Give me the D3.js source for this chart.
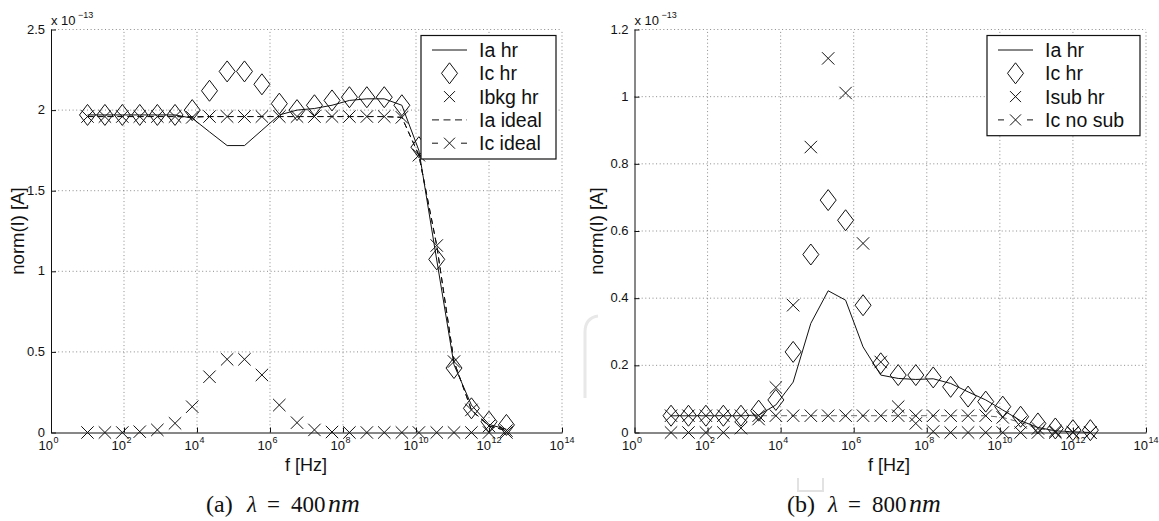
<!DOCTYPE html>
<html>
<head>
<meta charset="utf-8">
<script src="https://cdn.jsdelivr.net/npm/d3@7"></script>
<style>
  body { margin: 0; background: #fff; }
  svg { display: block; font-family: "Liberation Sans", Arial, Helvetica, sans-serif; }
</style>
</head>
<body>
<svg id="fig" width="1159" height="521"></svg>
<script>
// Sweep frequencies [Hz], shared by both panels
const freqHz = [1e1, 3e1, 9e1, 2.7e2, 8.2e2, 2.5e3, 7.4e3, 2.2e4, 6.7e4, 2e5, 6e5, 1.8e6,
                5.5e6, 1.65e7, 5e7, 1.5e8, 4.5e8, 1.35e9, 4.1e9, 1.2e10, 3.7e10, 1.1e11,
                3.3e11, 1e12, 3e12];

// Panel (a), lambda = 400 nm, currents in units of 1e-13 A
const aIaHr    = [1.97, 1.97, 1.97, 1.97, 1.97, 1.97, 1.95, 1.865, 1.78, 1.78, 1.875, 1.97, 2.00,
                  2.01, 2.03, 2.06, 2.07, 2.07, 2.03, 1.75, 1.07, 0.42, 0.17, 0.05, 0.02];
const aIcHr    = [1.97, 1.97, 1.97, 1.97, 1.97, 1.97, 2.00, 2.12, 2.24, 2.24, 2.16, 2.04, 2.00,
                  2.03, 2.06, 2.08, 2.08, 2.08, 2.03, 1.77, 1.074, 0.40, 0.15, 0.067, 0.047];
const aIbkgHr  = [0, 0, 0, 0.005, 0.016, 0.057, 0.16, 0.346, 0.454, 0.454, 0.357, 0.17, 0.061,
                  0.016, 0.003, 0, 0, 0, 0, 0, 0, 0, 0, 0, 0];
const aIaIdeal = [1.96, 1.96, 1.96, 1.96, 1.96, 1.96, 1.96, 1.96, 1.96, 1.96, 1.96, 1.96, 1.96,
                  1.96, 1.96, 1.96, 1.96, 1.96, 1.955, 1.72, 1.16, 0.44, 0.14, 0.04, 0.012];
const aIcIdeal = [1.96, 1.96, 1.96, 1.96, 1.96, 1.96, 1.955, 1.96, 1.96, 1.96, 1.96, 1.96, 1.96,
                  1.96, 1.96, 1.96, 1.96, 1.96, 1.955, 1.72, 1.16, 0.44, 0.14, 0.04, 0.012];

// Panel (b), lambda = 800 nm, currents in units of 1e-13 A
const bIaHr    = [0.05, 0.05, 0.05, 0.05, 0.05, 0.052, 0.082, 0.15, 0.325, 0.422, 0.394, 0.255,
                  0.171, 0.161, 0.158, 0.16, 0.146, 0.121, 0.097, 0.067, 0.035, 0.015, 0.005,
                  0.002, 0];
const bIcHr    = [0.05, 0.05, 0.05, 0.05, 0.05, 0.065, 0.097, 0.24, 0.53, 0.692, 0.632, 0.379,
                  0.206, 0.171, 0.171, 0.164, 0.136, 0.107, 0.092, 0.077, 0.047, 0.027, 0.012,
                  0.007, 0.007];
const bIsubHr  = [0, 0, 0, 0, 0.013, 0.04, 0.134, 0.379, 0.85, 1.114, 1.011, 0.563, 0.21, 0.077,
                  0.027, 0.003, 0, 0, 0, 0, 0, 0, 0, 0, 0];
const bIcNoSub = [0.05, 0.05, 0.05, 0.05, 0.05, 0.05, 0.05, 0.05, 0.05, 0.05, 0.05, 0.05, 0.05,
                  0.05, 0.05, 0.05, 0.05, 0.05, 0.05, 0.045, 0.03, 0.012, 0.004, 0.001, 0];

// Axis ticks
const xTickExp = [0, 2, 4, 6, 8, 10, 12, 14];
const aYTicks  = [0, 0.5, 1, 1.5, 2, 2.5];
const bYTicks  = [0, 0.2, 0.4, 0.6, 0.8, 1, 1.2];

const svg = d3.select("#fig");
const INK = "#111";
const SERIF = "'Liberation Serif', 'DejaVu Serif', serif";

function diamond(g, x, y) {
  g.append("path").attr("d", `M${x},${y - 10.5}L${x + 8},${y}L${x},${y + 10.5}L${x - 8},${y}Z`)
    .attr("fill", "none").attr("stroke", INK).attr("stroke-width", 1);
}
function cross(g, x, y, s = 6.2) {
  g.append("path").attr("d", `M${x - s},${y - s}L${x + s},${y + s}M${x - s},${y + s}L${x + s},${y - s}`)
    .attr("fill", "none").attr("stroke", INK).attr("stroke-width", 1);
}

// caption pieces: offset from caption start, italic, size
const capPieces = [
  { t: null, dx: 1, it: false, size: 24 },
  { t: "\u03bb", dx: 42, it: true, size: 23 },
  { t: "=", dx: 62, it: false, size: 23 },
  { t: null, dx: 86, it: false, size: 23 },
  { t: "nm", dx: 123, it: true, size: 26 }
];

function panel(opt) {
  const x = d3.scaleLog().domain([1, 1e14]).range([opt.left, opt.right]);
  const y = d3.scaleLinear().domain([0, opt.yMax]).range([opt.bottom, opt.top]);
  const g = svg.append("g");

  // dotted grid
  const grid = g.append("g").attr("stroke", "#8a8a8a").attr("stroke-width", 1)
    .attr("stroke-dasharray", "1,2.6");
  xTickExp.slice(1).forEach(e => {
    grid.append("line").attr("x1", x(Math.pow(10, e))).attr("x2", x(Math.pow(10, e)))
      .attr("y1", opt.bottom).attr("y2", opt.top);
  });
  opt.yTicks.slice(1).forEach(v => {
    grid.append("line").attr("x1", opt.left).attr("x2", opt.right)
      .attr("y1", y(v)).attr("y2", y(v));
  });

  // axes with inward ticks
  const yAxis = d3.axisLeft(y).tickValues(opt.yTicks).tickSizeInner(-5).tickSizeOuter(0)
    .tickFormat(d => String(d));
  const ya = g.append("g").attr("transform", `translate(${opt.left},0)`).call(yAxis);
  ya.selectAll("text").attr("font-size", 13).attr("fill", INK)
    .attr("x", -6).attr("dy", "0.28em").attr("text-anchor", "end")
    .attr("font-family", "'Liberation Sans', Arial, sans-serif");
  ya.selectAll("line,path").attr("stroke", INK);

  const xAxis = d3.axisBottom(x).tickValues(xTickExp.map(e => Math.pow(10, e)))
    .tickSizeInner(-5).tickSizeOuter(0).tickFormat("");
  const xa = g.append("g").attr("transform", `translate(0,${opt.bottom})`).call(xAxis);
  xa.selectAll("line,path").attr("stroke", INK);
  xTickExp.forEach(e => {
    const tx = x(Math.pow(10, e));
    g.append("text").attr("x", tx + 2).attr("y", opt.bottom + 17.5).attr("text-anchor", "end")
      .attr("fill", INK).attr("font-size", 13).text("10");
    g.append("text").attr("x", tx + 2.5).attr("y", opt.bottom + 10).attr("fill", INK)
      .attr("font-size", 9).text(String(e));
  });

  // exponent of the y axis
  g.append("text").attr("x", opt.left).attr("y", 25).attr("fill", INK).attr("font-size", 13)
    .text("x 10");
  g.append("text").attr("x", opt.left + 27).attr("y", 17.5).attr("fill", INK).attr("font-size", 9)
    .text("\u221213");

  // axis titles
  g.append("text").attr("x", opt.xLabelX).attr("y", 471).attr("text-anchor", "middle")
    .attr("font-size", 18).attr("fill", INK).text("f [Hz]");
  g.append("text").attr("transform", `translate(${opt.yLabelX},231) rotate(-90)`)
    .attr("text-anchor", "middle").attr("font-size", 18.5).attr("fill", INK).text("norm(I) [A]");

  // caption
  const capText = [opt.capTag, null, null, opt.capNum, null];
  capPieces.forEach((p, k) => {
    g.append("text").attr("x", opt.capX + p.dx).attr("y", 512)
      .attr("font-family", SERIF).attr("font-size", p.size)
      .attr("font-style", p.it ? "italic" : "normal").attr("fill", INK)
      .text(p.t || capText[k]);
  });

  // series
  const idx = freqHz.map((f, i) => i);
  const lineOf = arr => d3.line().x(i => x(freqHz[i])).y(i => y(arr[i]))(idx);
  const plot = g.append("g");
  opt.series.forEach(s => {
    if (s.line) {
      plot.append("path").attr("d", lineOf(s.values)).attr("fill", "none")
        .attr("stroke", s.color || INK).attr("stroke-width", 1)
        .attr("stroke-dasharray", s.line === "dash" ? "6,4" : null);
    }
  });
  opt.series.forEach(s => {
    if (s.marker) {
      idx.forEach(i => (s.marker === "diamond" ? diamond : cross)(plot, x(freqHz[i]), y(s.values[i])));
    }
  });

  // legend
  const lg = g.append("g");
  const rowH = 23.3;
  const bh = opt.series.length * rowH + 7;
  lg.append("rect").attr("x", opt.legX).attr("y", 35.5).attr("width", opt.legW).attr("height", bh)
    .attr("fill", "#fff").attr("stroke", INK).attr("stroke-width", 1.2);
  opt.series.forEach((s, k) => {
    const cy = 50 + k * rowH;
    const x0 = opt.legX + 11, x1 = opt.legX + 46, xm = (x0 + x1) / 2;
    if (s.line === "solid") {
      lg.append("line").attr("x1", x0).attr("x2", x1).attr("y1", cy).attr("y2", cy)
        .attr("stroke", INK).attr("stroke-width", 1);
    } else if (s.line === "dash" && !s.marker) {
      lg.append("line").attr("x1", x0).attr("x2", x1).attr("y1", cy).attr("y2", cy)
        .attr("stroke", INK).attr("stroke-width", 1).attr("stroke-dasharray", "7,4.5");
    } else if (s.line === "dash" && s.marker) {
      lg.append("line").attr("x1", x0).attr("x2", x0 + 6).attr("y1", cy).attr("y2", cy)
        .attr("stroke", INK).attr("stroke-width", 1);
      lg.append("line").attr("x1", x1 - 6).attr("x2", x1).attr("y1", cy).attr("y2", cy)
        .attr("stroke", INK).attr("stroke-width", 1);
    }
    if (s.marker === "diamond") diamond(lg, xm, cy);
    if (s.marker === "cross") cross(lg, xm, cy, 5.5);
    lg.append("text").attr("x", opt.legX + 58).attr("y", cy + 7).attr("font-size", 19.5)
      .attr("fill", INK).text(s.name);
  });
}

panel({
  left: 51, right: 562, top: 29.5, bottom: 432.5, yMax: 2.5, yTicks: aYTicks,
  xLabelX: 306, yLabelX: 24, capX: 205, capTag: "(a)", capNum: "400",
  legX: 421, legW: 135,
  series: [
    { name: "Ia hr", values: aIaHr, line: "solid" },
    { name: "Ic hr", values: aIcHr, marker: "diamond" },
    { name: "Ibkg hr", values: aIbkgHr, marker: "cross" },
    { name: "Ia ideal", values: aIaIdeal, line: "dash" },
    { name: "Ic ideal", values: aIcIdeal, line: "dash", marker: "cross" }
  ]
});

panel({
  left: 634.5, right: 1146, top: 29.5, bottom: 432.5, yMax: 1.2, yTicks: bYTicks,
  xLabelX: 889, yLabelX: 603, capX: 786, capTag: "(b)", capNum: "800",
  legX: 987, legW: 153,
  series: [
    { name: "Ia hr", values: bIaHr, line: "solid" },
    { name: "Ic hr", values: bIcHr, marker: "diamond" },
    { name: "Isub hr", values: bIsubHr, marker: "cross" },
    { name: "Ic no sub", values: bIcNoSub, line: "dash", marker: "cross", color: "#666" }
  ]
});

// faint page marks
svg.append("path").attr("d", "M585,398L585,332Q585,318 598,316")
  .attr("fill", "none").attr("stroke", "#e8e8e8").attr("stroke-width", 3);
svg.append("path").attr("d", "M798,478L798,491L823,491L823,478")
  .attr("fill", "none").attr("stroke", "#e2e2e2").attr("stroke-width", 2);
</script>
</body>
</html>
